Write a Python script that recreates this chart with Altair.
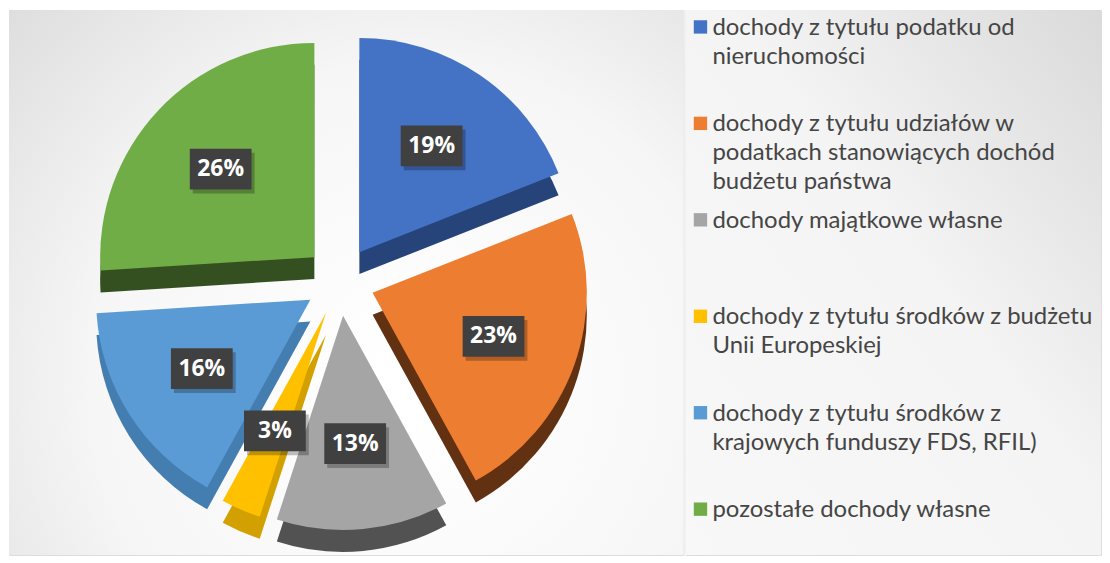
import altair as alt
import pandas as pd

categories = [
    "dochody z tytułu podatku od nieruchomości",
    "dochody z tytułu udziałów w podatkach stanowiących dochód budżetu państwa",
    "dochody majątkowe własne",
    "dochody z tytułu środków z budżetu Unii Europeskiej",
    "dochody z tytułu środków z krajowych funduszy FDS, RFIL)",
    "pozostałe dochody własne",
]
legend_labels = [
    "dochody z tytułu podatku od\nnieruchomości",
    "dochody z tytułu udziałów w\npodatkach stanowiących dochód\nbudżetu państwa",
    "dochody majątkowe własne",
    "dochody z tytułu środków z budżetu\nUnii Europeskiej",
    "dochody z tytułu środków z\nkrajowych funduszy FDS, RFIL)",
    "pozostałe dochody własne",
]
values = [19, 23, 13, 3, 16, 26]
top_colors = ["#4472C4", "#ED7D31", "#A5A5A5", "#FFC000", "#5B9BD5", "#70AD47"]
side_colors = ["#26437A", "#613112", "#525252", "#D2A000", "#447DAF", "#344F20"]

df = pd.DataFrame({
    "cat": categories,
    "leg": legend_labels,
    "v": values,
    "order": list(range(len(values))),
})

W_PIE, W_LEG, H = 677, 417, 547
R = 215
EXPLODE = 35
DEPTH = 22
LABEL_R = EXPLODE + 0.6 * R

base = alt.Chart(df).transform_window(
    cum="sum(v)", sort=[{"field": "order"}], frame=[None, 0]
).transform_joinaggregate(total="sum(v)").transform_calculate(
    a1="datum.cum / datum.total * 2 * PI",
    a0="(datum.cum - datum.v) / datum.total * 2 * PI",
).transform_calculate(
    mid="(datum.a0 + datum.a1) / 2"
).transform_calculate(
    cx=f"{EXPLODE} * sin(datum.mid)",
    cy=f"{EXPLODE} * cos(datum.mid)",
    lx=f"{LABEL_R} * sin(datum.mid)",
    ly=f"{LABEL_R} * cos(datum.mid)",
    lab="datum.v + '%'",
)

xs = alt.Scale(domain=[-332, 345], nice=False, zero=False)
ys = alt.Scale(domain=[-275, 272], nice=False, zero=False)

bg_pie = alt.Chart(alt.Data(values=[{}])).mark_rect(
    fill=alt.RadialGradient(
        gradient="radial",
        x1=0.6, y1=0.65, r1=0.05,
        x2=0.6, y2=0.65, r2=0.9,
        stops=[alt.GradientStop(offset=0, color="#ffffff"),
               alt.GradientStop(offset=0.5, color="#f6f6f6"),
               alt.GradientStop(offset=1, color="#d8d8d8")],
    )
).encode(x=alt.value(0), x2=alt.value(W_PIE), y=alt.value(0), y2=alt.value(H))

side = base.mark_arc(radius=R, yOffset=DEPTH).encode(
    x=alt.X("cx:Q", scale=xs, axis=None),
    y=alt.Y("cy:Q", scale=ys, axis=None),
    theta=alt.Theta("a0:Q", scale=None),
    theta2="a1:Q",
    color=alt.Color("cat:N", scale=alt.Scale(domain=categories, range=side_colors), legend=None),
)
top = base.mark_arc(radius=R).encode(
    x=alt.X("cx:Q", scale=xs, axis=None),
    y=alt.Y("cy:Q", scale=ys, axis=None),
    theta=alt.Theta("a0:Q", scale=None),
    theta2="a1:Q",
    fill=alt.Fill("cat:N", scale=alt.Scale(domain=categories, range=top_colors), legend=None),
)
box_shape = "M-1,-0.66L1,-0.66L1,0.66L-1,0.66Z"
shadow = base.mark_point(shape=box_shape, filled=True, size=62 * 62, color="#000000",
                         opacity=0.25, xOffset=3, yOffset=4).encode(
    x=alt.X("lx:Q", scale=xs, axis=None),
    y=alt.Y("ly:Q", scale=ys, axis=None),
)
boxes = base.mark_point(shape=box_shape, filled=True, size=62 * 62, color="#404040",
                        opacity=1).encode(
    x=alt.X("lx:Q", scale=xs, axis=None),
    y=alt.Y("ly:Q", scale=ys, axis=None),
)
labels = base.mark_text(font="Open Sans", fontWeight="bold", fontSize=23, color="white",
                        baseline="middle", align="center").encode(
    x=alt.X("lx:Q", scale=xs, axis=None),
    y=alt.Y("ly:Q", scale=ys, axis=None),
    text="lab:N",
)

pie = alt.layer(bg_pie, side, top, shadow, boxes, labels).resolve_scale(
    color="independent", fill="independent"
).properties(width=W_PIE, height=H)

bg_leg = alt.Chart(alt.Data(values=[{}])).mark_rect(
    fill=alt.LinearGradient(
        gradient="linear", x1=0, y1=1, x2=1, y2=0,
        stops=[alt.GradientStop(offset=0, color="#f8f8f8"),
               alt.GradientStop(offset=0.55, color="#f4f4f4"),
               alt.GradientStop(offset=1, color="#dadada")],
    )
).encode(x=alt.value(0), x2=alt.value(W_LEG), y=alt.value(0), y2=alt.value(H))

ly_scale = alt.Scale(type="point", domain=categories, range=[17, 501], padding=0)
leg_sq = alt.Chart(df).mark_square(size=180, filled=True, opacity=1).encode(
    x=alt.value(15),
    y=alt.Y("cat:N", scale=ly_scale, axis=None),
    fill=alt.Fill("cat:N", scale=alt.Scale(domain=categories, range=top_colors), legend=None),
)
leg_tx = alt.Chart(df).mark_text(font="Lato", fontSize=24, color="#454545", align="left",
                                 baseline="top", lineBreak="\n", lineHeight=29, dy=-11).encode(
    x=alt.value(27),
    y=alt.Y("cat:N", scale=ly_scale, axis=None),
    text="leg:N",
)
legend_panel = alt.layer(bg_leg, leg_sq, leg_tx).properties(width=W_LEG, height=H)

chart = alt.hconcat(pie, legend_panel, spacing=0).resolve_scale(
    color="independent", fill="independent"
).properties(padding=0).configure_view(
    strokeWidth=0
).configure(background="white")

chart.save("out.html", embed_options={"renderer": "svg", "actions": False})
